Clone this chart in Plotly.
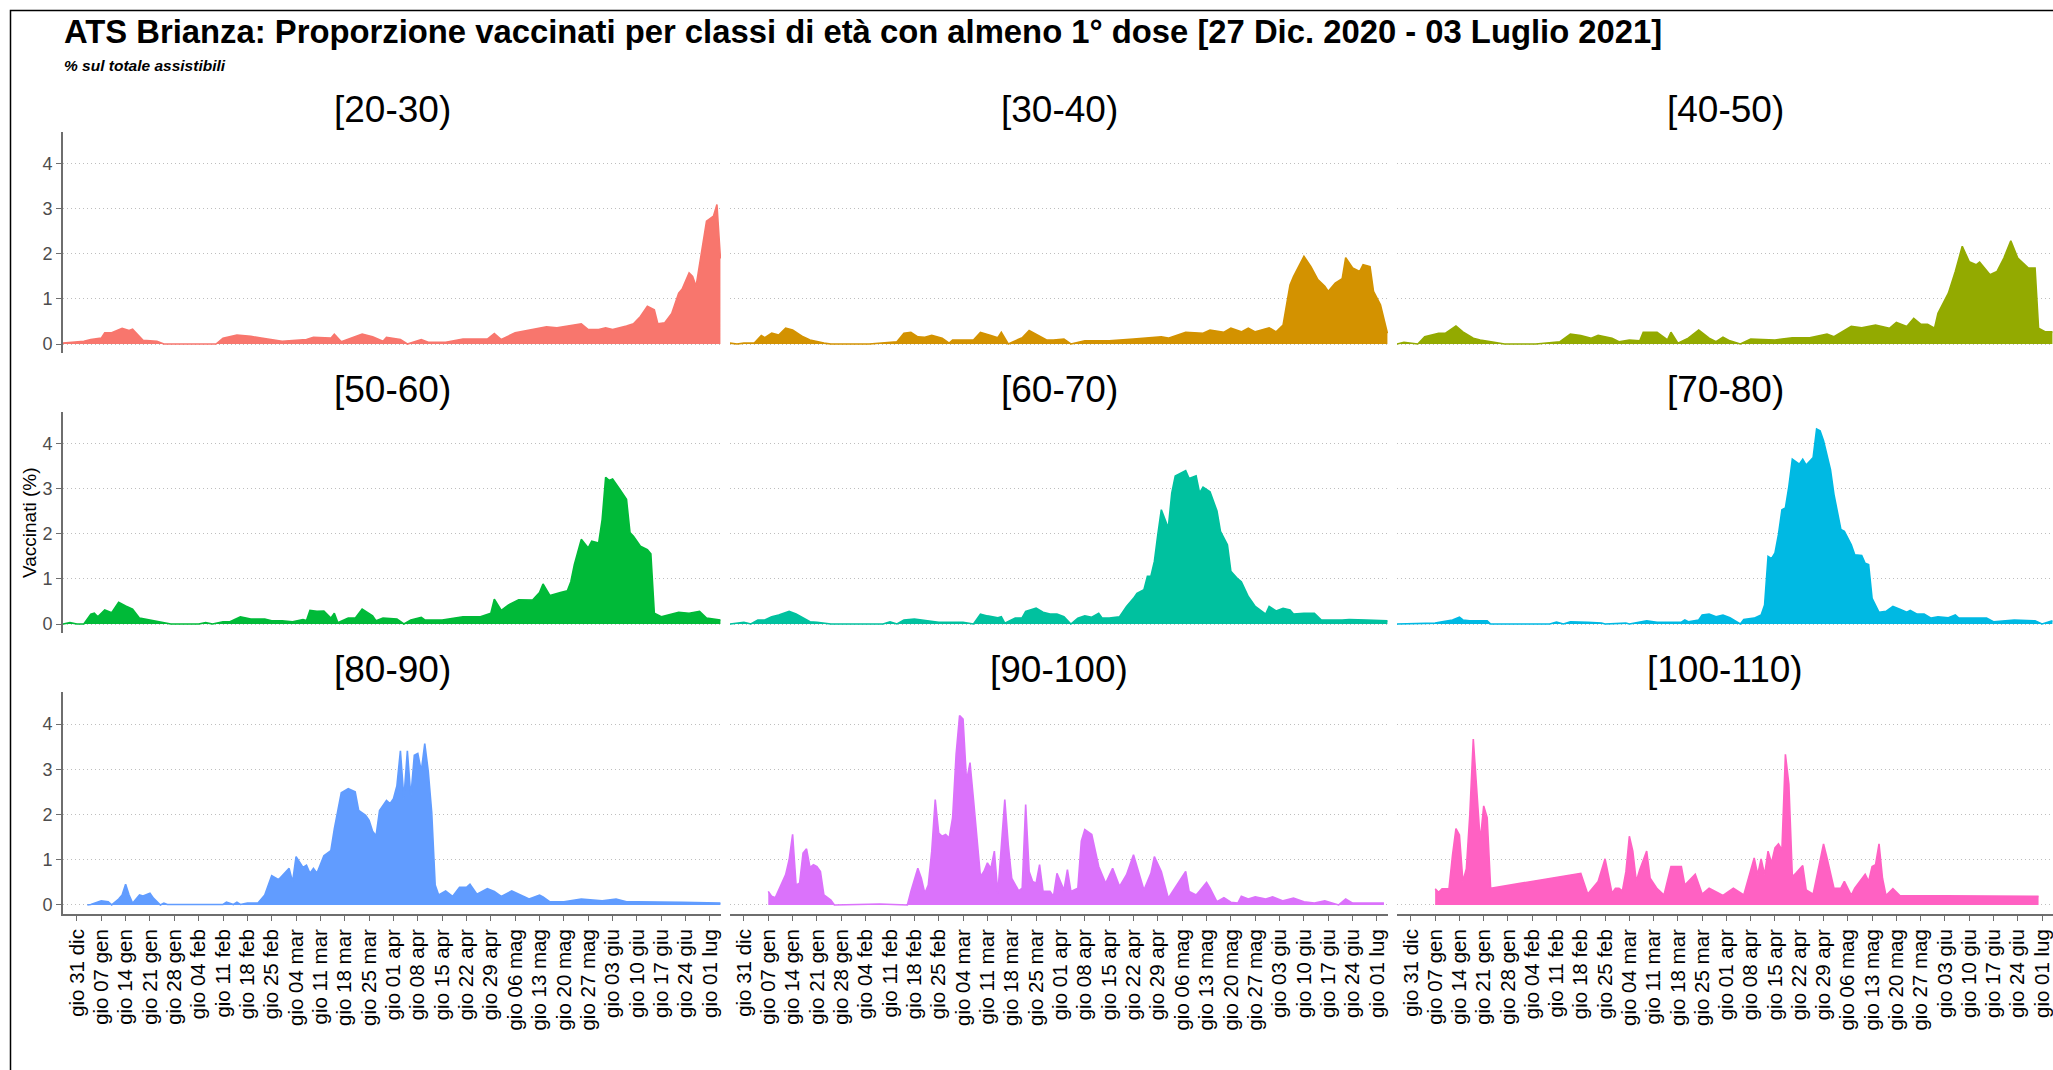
import pandas as pd
import plotly.graph_objects as go

START = "2020-12-27"
X_END = "2021-07-04 04:00"

panels = ["[20-30)", "[30-40)", "[40-50)", "[50-60)", "[60-70)", "[70-80)",
          "[80-90)", "[90-100)", "[100-110)"]
colors = ["#F8766D", "#D39200", "#93AA00", "#00BA38", "#00C19F", "#00B9E3",
          "#619CFF", "#DB72FB", "#FF61C3"]

# day offsets from START and % values
days_20_30 = [0,6,8,11,12,14,17,19,20,23,27,29,44,46,50,54,57,63,70,72,77,78,80,83,86,89,92,93,97,99,
              103,105,110,115,122,124,126,130,135,139,142,145,149,151,154,156,158,162,164,166,168,170,171,
              173,175,177,178,180,181,182,184,185,187,188,189]
vals_20_30 = [0.02,0.06,0.1,0.13,0.25,0.25,0.35,0.3,0.33,0.08,0.06,0.0,0.0,0.13,0.2,0.17,0.13,0.06,0.1,0.15,
              0.13,0.22,0.05,0.13,0.22,0.16,0.06,0.15,0.1,0.0,0.1,0.04,0.04,0.11,0.11,0.23,0.1,0.25,0.32,0.38,
              0.36,0.4,0.45,0.32,0.32,0.36,0.32,0.4,0.45,0.61,0.84,0.76,0.45,0.47,0.68,1.13,1.22,1.58,1.5,1.28,
              2.28,2.73,2.84,3.1,1.9]

days_30_40 = [0,2,4,7,9,10,12,14,16,18,21,23,27,29,40,45,48,50,52,54,56,58,61,63,64,70,72,75,77,78,
              80,84,86,91,93,96,98,102,109,116,124,126,131,136,138,142,144,147,149,151,155,157,159,160,161,
              162,165,167,169,171,172,174,176,177,179,181,182,184,185,187,188,189]
vals_30_40 = [0.02,0.0,0.02,0.02,0.19,0.14,0.24,0.2,0.35,0.31,0.16,0.09,0.02,0.0,0.0,0.04,0.05,0.24,0.26,0.16,
              0.15,0.19,0.13,0.02,0.09,0.09,0.26,0.19,0.14,0.26,0.0,0.14,0.3,0.09,0.09,0.11,0.0,0.07,0.07,0.11,
              0.16,0.13,0.26,0.24,0.31,0.26,0.35,0.27,0.35,0.27,0.36,0.27,0.42,0.87,1.31,1.5,1.95,1.72,1.43,1.28,
              1.17,1.35,1.45,1.92,1.69,1.61,1.76,1.72,1.17,0.87,0.57,0.24]

days_40_50 = [0,2,6,8,12,14,17,19,22,24,28,31,40,45,47,50,53,56,58,62,64,67,70,71,75,78,79,81,84,87,
              90,92,94,96,99,102,109,114,119,124,126,131,134,138,142,144,147,149,151,153,155,156,159,161,163,
              165,167,168,171,173,175,177,179,182,184,185,187,189]
vals_40_50 = [0.0,0.04,0.0,0.16,0.24,0.24,0.4,0.27,0.13,0.09,0.04,0.0,0.0,0.03,0.05,0.22,0.19,0.13,0.19,0.13,
              0.05,0.09,0.07,0.26,0.26,0.09,0.26,0.02,0.13,0.31,0.13,0.05,0.15,0.07,0.0,0.11,0.09,0.14,0.14,0.22,
              0.16,0.39,0.36,0.42,0.35,0.48,0.39,0.57,0.44,0.44,0.35,0.68,1.13,1.61,2.17,1.83,1.76,1.82,1.54,1.61,
              1.91,2.29,1.91,1.69,1.69,0.35,0.27,0.27]

days_50_60 = [0,2,4,6,8,9,10,12,14,16,18,20,22,27,31,39,41,43,46,48,51,54,58,60,63,66,69,70,71,73,
              75,77,78,79,82,84,86,89,90,92,96,98,100,103,104,109,112,115,120,123,124,126,128,131,135,137,
              138,140,143,145,146,147,149,150,151,152,154,155,156,157,158,160,162,163,164,166,168,169,170,
              172,174,177,180,183,185,189]
vals_50_60 = [0.0,0.03,0.0,0.0,0.22,0.24,0.16,0.31,0.25,0.48,0.4,0.33,0.13,0.05,0.0,0.0,0.03,0.0,0.05,0.05,
              0.16,0.11,0.11,0.07,0.07,0.05,0.1,0.08,0.3,0.28,0.29,0.13,0.24,0.03,0.13,0.13,0.33,0.18,0.07,0.13,
              0.11,0.0,0.09,0.15,0.09,0.09,0.13,0.16,0.16,0.24,0.55,0.3,0.42,0.54,0.53,0.7,0.89,0.63,0.7,0.74,
              0.94,1.32,1.88,1.79,1.69,1.84,1.8,2.32,3.26,3.19,3.22,3.0,2.77,2.03,1.95,1.73,1.65,1.56,0.24,0.16,
              0.2,0.26,0.24,0.28,0.13,0.09]

days_60_70 = [0,4,6,8,10,12,14,17,19,21,23,25,29,44,46,48,50,53,57,60,67,70,72,74,77,78,79,82,84,85,
              88,90,92,94,96,98,100,102,104,106,107,109,112,114,116,117,119,120,121,122,123,124,126,127,128,
              131,132,134,135,136,138,140,141,143,144,146,147,149,151,153,154,155,157,159,161,162,165,168,
              170,176,178,183,189]
vals_60_70 = [0.0,0.04,0.0,0.09,0.09,0.16,0.2,0.28,0.22,0.13,0.05,0.04,0.0,0.0,0.05,0.0,0.09,0.11,0.07,0.04,
              0.04,0.0,0.22,0.18,0.14,0.16,0.02,0.13,0.14,0.28,0.35,0.26,0.22,0.22,0.16,0.0,0.13,0.18,0.15,0.24,
              0.13,0.13,0.16,0.39,0.57,0.68,0.76,1.06,1.06,1.39,1.99,2.54,2.13,2.91,3.29,3.41,3.23,3.29,2.91,3.04,
              2.94,2.51,2.06,1.76,1.17,1.0,0.94,0.61,0.39,0.28,0.22,0.39,0.29,0.35,0.31,0.22,0.24,0.24,0.09,0.09,
              0.1,0.09,0.07]

days_70_80 = [0,11,13,16,18,19,21,26,27,44,46,48,50,53,55,59,60,66,67,72,75,82,83,84,87,88,90,92,94,96,
              99,100,103,105,106,107,108,109,110,111,112,113,114,116,117,118,120,121,122,123,125,126,128,
              129,131,132,134,135,136,137,138,139,141,143,145,147,148,150,152,154,156,159,161,162,166,170,
              172,175,178,184,186,189]
vals_70_80 = [0.0,0.02,0.05,0.09,0.15,0.09,0.07,0.07,0.0,0.0,0.04,0.0,0.05,0.05,0.04,0.02,0.0,0.02,0.0,0.07,
              0.04,0.04,0.09,0.05,0.09,0.2,0.22,0.16,0.2,0.14,0.0,0.1,0.13,0.2,0.42,1.5,1.45,1.58,1.99,2.54,
              2.58,3.06,3.66,3.55,3.66,3.53,3.7,4.33,4.29,4.07,3.43,2.88,2.1,2.06,1.76,1.54,1.52,1.35,1.32,0.57,
              0.42,0.26,0.28,0.39,0.33,0.26,0.3,0.22,0.22,0.13,0.16,0.14,0.2,0.13,0.13,0.13,0.05,0.07,0.09,0.07,
              0.0,0.07]

days_80_90 = [7,8,11,13,14,16,17,18,19,20,22,23,25,26,28,29,30,46,47,49,50,51,53,56,58,60,62,64,65,66,
              67,69,70,71,72,73,75,77,78,80,82,84,85,87,88,89,90,91,93,94,95,96,97,98,99,100,101,102,103,104,
              105,106,107,108,110,112,114,116,117,119,122,124,126,129,131,134,137,138,140,144,149,155,159,
              162,165,170,178,189]
vals_80_90 = [0.0,0.01,0.09,0.07,0.0,0.13,0.22,0.46,0.22,0.04,0.22,0.2,0.26,0.15,0.0,0.04,0.01,0.01,0.06,0.01,
              0.06,0.01,0.04,0.04,0.22,0.65,0.56,0.72,0.81,0.51,1.07,0.83,0.88,0.7,0.81,0.7,1.09,1.2,1.68,2.48,
              2.57,2.5,2.09,1.98,1.87,1.63,1.53,2.09,2.31,2.24,2.35,2.64,3.41,2.35,3.41,2.39,3.31,3.35,2.96,3.57,
              2.96,2.05,0.44,0.22,0.31,0.19,0.39,0.39,0.46,0.24,0.36,0.3,0.19,0.31,0.24,0.13,0.22,0.18,0.07,0.07,
              0.13,0.09,0.13,0.07,0.07,0.06,0.06,0.04]

days_90_100 = [11,12,13,14,16,17,18,19,20,21,22,23,24,25,26,27,29,30,43,51,52,54,55,56,57,58,59,60,61,62,
               63,64,65,66,67,68,69,70,71,72,73,74,75,76,77,78,79,80,81,83,84,85,86,87,88,89,90,92,93,94,
               96,97,98,100,101,102,104,106,108,110,112,114,116,119,121,122,124,126,128,131,132,134,135,137,
               138,140,142,144,146,147,149,151,154,156,159,162,165,168,171,173,175,177,179,188]
vals_90_100 = [0.3,0.19,0.16,0.33,0.67,1.0,1.56,0.44,0.48,1.15,1.24,0.83,0.89,0.85,0.74,0.22,0.11,0.0,0.02,0.0,
               0.3,0.81,0.59,0.26,0.44,1.19,2.33,1.59,1.52,1.56,1.48,1.93,3.33,4.19,4.11,2.74,3.15,2.33,1.41,0.63,
               0.74,0.93,0.81,1.19,0.26,1.33,2.33,1.33,0.59,0.31,0.37,2.22,0.74,0.52,0.48,0.89,0.3,0.3,0.19,0.7,
               0.33,0.78,0.3,0.37,1.41,1.67,1.56,0.85,0.48,0.81,0.41,0.67,1.11,0.33,0.7,1.07,0.74,0.15,0.39,0.74,
               0.3,0.22,0.31,0.5,0.37,0.07,0.16,0.06,0.04,0.19,0.13,0.18,0.13,0.18,0.09,0.15,0.07,0.04,0.09,0.04,
               0.0,0.13,0.04,0.04]

days_100_110 = [11,12,13,15,16,17,18,19,20,21,22,23,24,25,26,27,53,55,58,60,62,63,64,65,66,67,68,69,70,72,
                73,75,77,79,82,83,86,88,90,94,97,100,103,104,105,106,107,108,109,110,111,112,113,114,115,117,
                118,120,123,124,126,128,129,131,132,135,136,137,138,139,140,141,143,145,185]
vals_100_110 = [0.36,0.28,0.36,0.36,1.1,1.69,1.55,0.52,0.8,2.0,3.67,2.52,1.41,2.19,1.93,0.37,0.7,0.24,0.52,1.02,
                0.26,0.37,0.37,0.31,0.73,1.52,1.19,0.52,0.78,1.19,0.59,0.36,0.22,0.85,0.85,0.44,0.68,0.24,0.37,0.21,
                0.37,0.22,1.04,0.67,1.02,0.67,1.19,0.93,1.26,1.35,1.22,3.33,2.67,0.63,0.7,0.87,0.33,0.24,1.35,1.04,
                0.37,0.37,0.52,0.21,0.37,0.68,0.52,0.85,0.89,1.35,0.59,0.21,0.36,0.21,0.19]

series = [(days_20_30, vals_20_30), (days_30_40, vals_30_40), (days_40_50, vals_40_50),
          (days_50_60, vals_50_60), (days_60_70, vals_60_70), (days_70_80, vals_70_80),
          (days_80_90, vals_80_90), (days_90_100, vals_90_100), (days_100_110, vals_100_110)]

tick_dates = ["2020-12-31", "2021-01-07", "2021-01-14", "2021-01-21", "2021-01-28", "2021-02-04",
              "2021-02-11", "2021-02-18", "2021-02-25", "2021-03-04", "2021-03-11", "2021-03-18",
              "2021-03-25", "2021-04-01", "2021-04-08", "2021-04-15", "2021-04-22", "2021-04-29",
              "2021-05-06", "2021-05-13", "2021-05-20", "2021-05-27", "2021-06-03", "2021-06-10",
              "2021-06-17", "2021-06-24", "2021-07-01"]
tick_labels = ["gio 31 dic", "gio 07 gen", "gio 14 gen", "gio 21 gen", "gio 28 gen", "gio 04 feb",
               "gio 11 feb", "gio 18 feb", "gio 25 feb", "gio 04 mar", "gio 11 mar", "gio 18 mar",
               "gio 25 mar", "gio 01 apr", "gio 08 apr", "gio 15 apr", "gio 22 apr", "gio 29 apr",
               "gio 06 mag", "gio 13 mag", "gio 20 mag", "gio 27 mag", "gio 03 giu", "gio 10 giu",
               "gio 17 giu", "gio 24 giu", "gio 01 lug"]
y_ticks = [0, 1, 2, 3, 4]

for d, v in series:
    assert len(d) == len(v), (len(d), len(v))

# ---- layout geometry (pixels) ----
W, H = 2053, 1070
ML, MR, MT, MB = 63, 0, 132, 156
PW = W - ML - MR
PH = H - MT - MB
col_px = [(0, 658), (667, 1325), (1334, 1990)]
row_px = [(132, 353), (412, 633), (692, 914)]  # top, bottom (page px)

def xdom(c):
    a, b = col_px[c]
    return [a / PW, min(b / PW, 1.0)]

def ydom(r):
    t, b = row_px[r]
    return [(H - MB - b) / PH, (H - MB - t) / PH]

def ypaper(py):
    return (H - MB - py) / PH

def xpaper(px):
    return (px - ML) / PW

FONT = "Liberation Sans, Arial, sans-serif"
start = pd.Timestamp(START)

fig = go.Figure()
layout = dict(
    width=W, height=H,
    margin=dict(l=ML, r=MR, t=MT, b=MB, pad=0),
    paper_bgcolor="white", plot_bgcolor="white",
    showlegend=False, template="none",
    font=dict(family=FONT, color="black"),
)

annotations = []
for k, (name, col, (d, v)) in enumerate(zip(panels, colors, series)):
    r, c = divmod(k, 3)
    sfx = "" if k == 0 else str(k + 1)
    dates = start + pd.to_timedelta(d, unit="D")
    fig.add_trace(go.Scatter(
        x=dates, y=v, mode="lines", fill="tozeroy",
        line=dict(color=col, width=1.6), fillcolor=col,
        xaxis="x" + sfx, yaxis="y" + sfx, hoverinfo="skip"))
    bottom = (r == 2)
    left = (c == 0)
    layout["xaxis" + sfx] = dict(
        domain=xdom(c), anchor="y" + sfx, type="date",
        range=[START, X_END], tickvals=tick_dates, ticktext=tick_labels,
        tickangle=-90, showticklabels=bottom, showline=bottom,
        ticklabeloverflow="allow",
        linecolor="#6E6E6E", linewidth=1.8,
        ticks="outside" if bottom else "", ticklen=5, tickwidth=1.3, tickcolor="#6E6E6E",
        tickfont=dict(size=20.5, color="black", family=FONT),
        showgrid=False, zeroline=False, automargin=False, fixedrange=True)
    layout["yaxis" + sfx] = dict(
        domain=ydom(r), anchor="x" + sfx,
        range=[-0.2, 4.71], tickvals=y_ticks,
        showgrid=True, gridcolor="#BEBEBE", griddash="1px,3px", gridwidth=1,
        zeroline=False, showline=left, linecolor="#6E6E6E", linewidth=1.8,
        ticks="outside" if left else "", ticklen=5, tickwidth=1.3, tickcolor="#6E6E6E",
        showticklabels=left, tickfont=dict(size=18, color="#4D4D4D", family=FONT),
        automargin=False, fixedrange=True)
    xd = xdom(c)
    annotations.append(dict(
        text=name, xref="paper", yref="paper", x=(xd[0] + xd[1]) / 2,
        y=ypaper(row_px[r][0] - 23), xanchor="center", yanchor="middle",
        showarrow=False, font=dict(size=37, color="black", family=FONT)))

annotations.append(dict(
    text="<b>ATS Brianza: Proporzione vaccinati per classi di età con almeno 1° dose [27 Dic. 2020 - 03 Luglio 2021]</b>",
    xref="paper", yref="paper", x=xpaper(62), y=ypaper(31), xanchor="left", yanchor="middle",
    showarrow=False, font=dict(size=32.8, color="black", family=FONT)))
annotations.append(dict(
    text="<b><i>% sul totale assistibili</i></b>",
    xref="paper", yref="paper", x=xpaper(62), y=ypaper(65), xanchor="left", yanchor="middle",
    showarrow=False, font=dict(size=15.5, color="black", family=FONT)))
annotations.append(dict(
    text="Vaccinati (%)", xref="paper", yref="paper", x=xpaper(29), y=ypaper(523),
    xanchor="center", yanchor="middle", textangle=-90, showarrow=False,
    font=dict(size=19, color="black", family=FONT)))

layout["annotations"] = annotations
layout["shapes"] = [dict(
    type="rect", xref="paper", yref="paper",
    x0=xpaper(10.5), x1=1.2, y0=-0.5, y1=ypaper(10.5),
    line=dict(color="black", width=1.5), fillcolor="rgba(0,0,0,0)", layer="above")]

fig.update_layout(**layout)
fig.write_html("out.html", config={"displayModeBar": False},
               post_script="document.body.style.margin='0';document.body.style.overflow='hidden';")
